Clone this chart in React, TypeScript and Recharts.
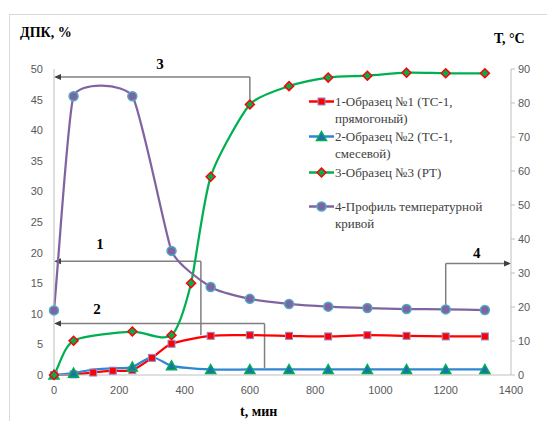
import React from 'react'
import { LineChart, Line, XAxis, YAxis, ReferenceLine, ReferenceDot } from 'recharts'

// time, min
const TIME_1 = [0, 60, 120, 180, 240, 300, 360, 480, 600, 720, 840, 960, 1080, 1200, 1320]
const SAMPLE_1 = [0, 0.1, 0.4, 0.7, 0.8, 2.8, 5.1, 6.4, 6.5, 6.4, 6.3, 6.5, 6.4, 6.3, 6.3]
const TIME_2 = [0, 60, 120, 180, 240, 300, 360, 480, 600, 720, 840, 960, 1080, 1200, 1320]
const SAMPLE_2 = [0, 0.3, 0.9, 1.1, 1.3, 2.9, 1.5, 0.9, 0.9, 0.9, 0.9, 0.9, 0.9, 0.9, 0.9]
const HIDDEN_2 = [120, 180, 300] // markers covered by sample 1
const TIME_3 = [0, 60, 240, 360, 420, 480, 600, 720, 840, 960, 1080, 1200, 1320]
const SAMPLE_3 = [0, 5.6, 7.1, 6.5, 15.0, 32.4, 44.2, 47.2, 48.6, 48.9, 49.4, 49.3, 49.3]
const TIME_4 = [0, 60, 240, 360, 480, 600, 720, 840, 960, 1080, 1200, 1320]
const TEMP = [19, 82, 82, 36.5, 25.9, 22.4, 20.9, 20.1, 19.7, 19.4, 19.3, 19.1]

const X_TICKS = [0, 200, 400, 600, 800, 1000, 1200, 1400]
const LEFT_TICKS = [0, 5, 10, 15, 20, 25, 30, 35, 40, 45, 50]
const RIGHT_TICKS = [0, 10, 20, 30, 40, 50, 60, 70, 80, 90]

const LEGEND_LINES = [
  ['1-Образец №1 (ТС-1,', 'прямогоный)'],
  ['2-Образец №2 (ТС-1,', 'смесевой)'],
  ['3-Образец №3 (РТ)'],
  ['4-Профиль температурной', 'кривой'],
]

// annotation brackets: corner x, value at the curve, arrow level, arrow end, label position
const BRACKETS_LEFT = [
  { name: '3', x: 600, from: 44.2, y: 48.7, to: 0, lx: 325, ly: 50.8 },
  { name: '1', x: 450, from: 6.5, y: 18.6, to: 0, lx: 141, ly: 21.4 },
  { name: '2', x: 645, from: 1.1, y: 8.4, to: 0, lx: 132, ly: 10.8 },
]
const BRACKETS_RIGHT = [{ name: '4', x: 1200, from: 19.3, y: 32.8, to: 1400, lx: 1295, ly: 35.8 }]

const SERIF = '"Liberation Serif", "Times New Roman", Tinos, "DejaVu Serif", serif'

const toRows = (xs: number[], ys: number[]) => xs.map((t, i) => ({ t, v: ys[i] }))

// Excel-like smoothing: chord tangent, handle length limited by the shorter neighbouring segment
const excelCurve = (ctx: any) => {
  let pts: number[][] = []
  return {
    areaStart() {},
    areaEnd() {},
    lineStart() { pts = [] },
    point(x: number, y: number) { pts.push([+x, +y]) },
    lineEnd() {
      const n = pts.length
      if (!n) return
      ctx.moveTo(pts[0][0], pts[0][1])
      if (n < 3) {
        if (n === 2) ctx.lineTo(pts[1][0], pts[1][1])
        return
      }
      const d = (a: number[], b: number[]) => Math.hypot(b[0] - a[0], b[1] - a[1])
      const k = 0.27
      const handle = (i: number) => {
        const prev = pts[Math.max(0, i - 1)]
        const next = pts[Math.min(n - 1, i + 1)]
        const tx = next[0] - prev[0]
        const ty = next[1] - prev[1]
        const len = Math.hypot(tx, ty) || 1
        const din = i > 0 ? d(pts[i - 1], pts[i]) : Infinity
        const dout = i < n - 1 ? d(pts[i], pts[i + 1]) : Infinity
        const h = k * Math.min(din, dout)
        return [(tx / len) * h, (ty / len) * h]
      }
      for (let i = 0; i < n - 1; i++) {
        const a = handle(i)
        const b = handle(i + 1)
        const p0 = pts[i]
        const p1 = pts[i + 1]
        ctx.bezierCurveTo(p0[0] + a[0], p0[1] + a[1], p1[0] - b[0], p1[1] - b[1], p1[0], p1[1])
      }
    },
  }
}

const Square = ({ cx, cy }: any) =>
  <rect x={cx - 3.5} y={cy - 3.5} width={7} height={7} fill="#ff0000" stroke="#8c8cd0" strokeWidth={1} />
const Triangle = ({ cx, cy }: any) =>
  <polygon points={`${cx},${cy - 5} ${cx + 5},${cy + 4} ${cx - 5},${cy + 4}`} fill="#1f6fb8" stroke="#00b050" strokeWidth={1.5} />
const Diamond = ({ cx, cy }: any) =>
  <polygon points={`${cx},${cy - 4.5} ${cx + 4.5},${cy} ${cx},${cy + 4.5} ${cx - 4.5},${cy}`} fill="#00b050" stroke="#ff0000" strokeWidth={1.5} />
const Circle = ({ cx, cy }: any) =>
  <circle cx={cx} cy={cy} r={4.5} fill="#8064a2" stroke="#4bacc6" strokeWidth={1.5} />

const MARKERS = [Square, Triangle, Diamond, Circle]
const COLORS = ['#ff0000', '#2e86d4', '#00b050', '#8064a2']

const Arrow = (p: any) => {
  const { x1, y1, x2, y2, head } = p
  const ang = Math.atan2(y2 - y1, x2 - x1)
  const L = 7
  const W = 3
  const bx = x2 - L * Math.cos(ang)
  const by = y2 - L * Math.sin(ang)
  const px = -Math.sin(ang) * W
  const py = Math.cos(ang) * W
  return (
    <g>
      <line x1={x1} y1={y1} x2={head ? bx : x2} y2={head ? by : y2} stroke="#7f7f7f" strokeWidth={1.5} />
      {head && <polygon points={`${x2},${y2} ${bx + px},${by + py} ${bx - px},${by - py}`} fill="#404040" />}
    </g>
  )
}

const BracketLabel = ({ cx, cy, text }: any) => (
  <text x={cx} y={cy} textAnchor="middle" dominantBaseline="central"
    style={{ fontFamily: SERIF, fontWeight: 700, fontSize: 15 }} fill="#000">{text}</text>
)

const tickStyle = { fontFamily: '"Liberation Sans", Arial, sans-serif', fontSize: 11, fill: '#595959' }
const titleStyle: React.CSSProperties = {
  position: 'absolute', fontFamily: SERIF, fontWeight: 700, fontSize: 14, color: '#000', whiteSpace: 'nowrap',
}

const LegendBox = () => {
  const tops = [93, 128, 164, 198]
  return (
    <>
      {LEGEND_LINES.map((lines, i) => {
        const M = MARKERS[i]
        return (
          <div key={i} style={{ position: 'absolute', left: 308, top: tops[i], display: 'flex', alignItems: 'flex-start' }}>
            <svg width={27} height={17} style={{ flex: 'none' }}>
              <line x1={1} y1={8.5} x2={26} y2={8.5} stroke={COLORS[i]} strokeWidth={2.5} />
              <M cx={13.5} cy={8.5} />
            </svg>
            <div style={{ fontFamily: SERIF, fontSize: 13, lineHeight: '17px', color: '#404040', whiteSpace: 'nowrap' }}>
              {lines.map((l, j) => <div key={j}>{l}</div>)}
            </div>
          </div>
        )
      })}
    </>
  )
}

export default function App() {
  const hiddenDot = (times: number[], M: any) => (p: any) =>
    times.includes(p.payload.t) ? <g key={p.index} /> : <M key={p.index} {...p} />

  return (
    <div style={{ position: 'absolute', left: 0, top: 0, width: 547, height: 421, overflow: 'hidden', background: '#fff' }}>
      <div style={{ position: 'absolute', left: 9, top: 14, width: 560, height: 430, border: '1px solid #d9d9d9' }} />
      <LineChart width={547} height={421} margin={{ top: 69, right: 0, bottom: 16, left: 0 }} style={{ position: 'absolute', left: 0, top: 0 }}>
        <XAxis dataKey="t" type="number" domain={[0, 1400]} ticks={X_TICKS} allowDuplicatedCategory={false}
          height={30} tickLine={false} tickSize={0} tickMargin={11} stroke="#bfbfbf" tick={tickStyle} />
        <YAxis yAxisId="left" domain={[0, 50]} ticks={LEFT_TICKS} width={54} tickLine={false}
          tickSize={0} tickMargin={11} stroke="#bfbfbf" tick={tickStyle} />
        <YAxis yAxisId="right" orientation="right" domain={[0, 90]} ticks={RIGHT_TICKS} width={36}
          tickSize={4} tickMargin={3} stroke="#bfbfbf" tick={tickStyle} />

        {BRACKETS_LEFT.map((b) => [
          <ReferenceLine key={b.name + 'v'} yAxisId="left" segment={[{ x: b.x, y: b.from }, { x: b.x, y: b.y }]} shape={(p: any) => <Arrow {...p} />} />,
          <ReferenceLine key={b.name + 'h'} yAxisId="left" segment={[{ x: b.x, y: b.y }, { x: b.to, y: b.y }]} shape={(p: any) => <Arrow {...p} head />} />,
          <ReferenceDot key={b.name + 'l'} yAxisId="left" x={b.lx} y={b.ly} ifOverflow="visible" shape={(p: any) => <BracketLabel {...p} text={b.name} />} />,
        ])}
        {BRACKETS_RIGHT.map((b) => [
          <ReferenceLine key={b.name + 'v'} yAxisId="right" segment={[{ x: b.x, y: b.from }, { x: b.x, y: b.y }]} shape={(p: any) => <Arrow {...p} />} />,
          <ReferenceLine key={b.name + 'h'} yAxisId="right" segment={[{ x: b.x, y: b.y }, { x: b.to, y: b.y }]} ifOverflow="visible" shape={(p: any) => <Arrow {...p} head />} />,
          <ReferenceDot key={b.name + 'l'} yAxisId="right" x={b.lx} y={b.ly} ifOverflow="visible" shape={(p: any) => <BracketLabel {...p} text={b.name} />} />,
        ])}

        <Line yAxisId="left" data={toRows(TIME_1, SAMPLE_1)} dataKey="v" type={excelCurve as any} stroke={COLORS[0]} strokeWidth={2.25}
          dot={(p: any) => <Square key={p.index} {...p} />} isAnimationActive={false} />
        <Line yAxisId="left" data={toRows(TIME_2, SAMPLE_2)} dataKey="v" type={excelCurve as any} stroke={COLORS[1]} strokeWidth={2.25}
          dot={hiddenDot(HIDDEN_2, Triangle)} isAnimationActive={false} />
        <Line yAxisId="left" data={toRows(TIME_3, SAMPLE_3)} dataKey="v" type={excelCurve as any} stroke={COLORS[2]} strokeWidth={2.25}
          dot={(p: any) => <Diamond key={p.index} {...p} />} isAnimationActive={false} />
        <Line yAxisId="right" data={toRows(TIME_4, TEMP)} dataKey="v" type={excelCurve as any} stroke={COLORS[3]} strokeWidth={2.25}
          dot={(p: any) => <Circle key={p.index} {...p} />} isAnimationActive={false} />
      </LineChart>
      <div style={{ ...titleStyle, left: 20, top: 25 }}>ДПК, %</div>
      <div style={{ ...titleStyle, left: 494, top: 31 }}>Т, °С</div>
      <div style={{ ...titleStyle, left: 240, top: 404 }}>t, мин</div>
      <LegendBox />
    </div>
  )
}
